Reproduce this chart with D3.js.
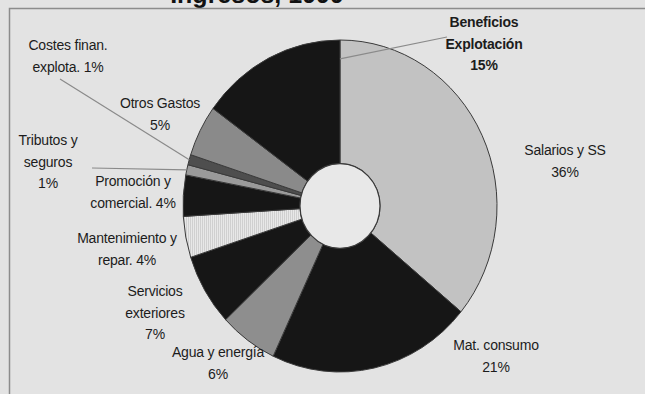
<!DOCTYPE html>
<html>
<head>
<meta charset="utf-8">
<script src="https://cdn.jsdelivr.net/npm/d3@7"></script>
<style>
  html, body { margin: 0; padding: 0; background: #e3e3e3; }
  svg { display: block; }
  text { font-family: "Liberation Sans", Arial, sans-serif; }
</style>
</head>
<body>
<svg id="chart" width="645" height="394"></svg>
<script>
// Cost structure: share of income per item, clockwise from 12 o'clock
const categories = [
  "Salarios y SS", "Mat. consumo", "Agua y energía", "Servicios exteriores",
  "Mantenimiento y repar.", "Promoción y comercial.", "Tributos y seguros",
  "Costes finan. explota.", "Otros Gastos", "Beneficios Explotación"
];
const shares = [36, 21, 6, 7, 4, 4, 1, 1, 5, 15];
// Label lines; {p} is replaced by the slice share
const labelLines = [
  ["Salarios y SS", "{p}"],
  ["Mat. consumo", "{p}"],
  ["Agua y energía", "{p}"],
  ["Servicios", "exteriores", "{p}"],
  ["Mantenimiento y", "repar. {p}"],
  ["Promoción y", "comercial. {p}"],
  ["Tributos y", "seguros", "{p}"],
  ["Costes finan.", "explota. {p}"],
  ["Otros Gastos", "{p}"],
  ["Beneficios", "Explotación", "{p}"]
];
const titleText = "Ingresos, 1999";

// Styling per slice
const fills = ["#c2c2c2", "#161616", "#8e8e8e", "#161616", "url(#stripes)",
               "#161616", "#9a9a9a", "#4e4e4e", "#8a8a8a", "#161616"];
const bold = [false, false, false, false, false, false, false, false, false, true];
// Label placement: centre x and first-line centre y
const labelPos = [
  [565, 150], [496, 345], [218, 352], [155, 291], [127, 238],
  [133, 181], [48, 140], [68, 45], [160, 103], [484, 22]
];
// Leader lines: slice index, start point, radius factor at the slice, which angle
const leaders = [
  { i: 9, from: [447, 37], k: 0.886, at: "end" },
  { i: 7, from: [60, 79], k: 1, at: "mid" },
  { i: 6, from: [92, 168], k: 1, at: "mid" }
];

const svg = d3.select("#chart");
const W = 645, H = 394;
const cx = 340, cy = 206, rx = 157, ry = 166, rIn = 40;
const lineGap = 21.5;

const defs = svg.append("defs");
const pat = defs.append("pattern").attr("id", "stripes")
  .attr("patternUnits", "userSpaceOnUse").attr("width", 2).attr("height", 3);
pat.append("rect").attr("width", 2).attr("height", 3).attr("fill", "#e8e8e8");
pat.append("rect").attr("width", 1).attr("height", 3).attr("fill", "#d0d0d0");

svg.append("rect").attr("width", W).attr("height", H).attr("fill", "#e3e3e3");

// Title, mostly above the visible area
svg.append("text")
  .attr("x", 257).attr("y", 3)
  .attr("text-anchor", "middle")
  .attr("font-size", 25).attr("font-weight", "bold").attr("fill", "#111")
  .text(titleText);

// Chart frame
svg.append("path")
  .attr("d", d3.line()([[9.5, H + 2], [9.5, 8.5], [W + 2, 8.5]]))
  .attr("fill", "none").attr("stroke", "#8c8c8c").attr("stroke-width", 1.5);

const pie = d3.pie().sort(null).value(d => d)(shares);
const arc = d3.arc().innerRadius(rIn).outerRadius(rx);

const g = svg.append("g")
  .attr("transform", `translate(${cx},${cy}) scale(1,${ry / rx})`);

g.selectAll("path.slice")
  .data(pie)
  .join("path")
  .attr("class", "slice")
  .attr("d", arc)
  .attr("fill", (d, i) => fills[i])
  .attr("stroke", "#3a3a3a")
  .attr("stroke-width", 1)
  .attr("vector-effect", "non-scaling-stroke");

// Hole outline
g.append("circle").attr("r", rIn)
  .attr("fill", "#e8e8e8")
  .attr("stroke", "#3a3a3a").attr("stroke-width", 1.2)
  .attr("vector-effect", "non-scaling-stroke");

// Leader lines
function pointAt(angle, k) {
  return [cx + rx * k * Math.sin(angle), cy - ry * k * Math.cos(angle)];
}
leaders.forEach(l => {
  const d = pie[l.i];
  const a = l.at === "end" ? d.endAngle : (d.startAngle + d.endAngle) / 2;
  const p = pointAt(a, l.k);
  svg.append("path")
    .attr("d", d3.line()([l.from, p]))
    .attr("stroke", "#8a8a8a").attr("stroke-width", 1.2).attr("fill", "none");
});

// Labels
const labels = svg.append("g").attr("font-size", 14).attr("fill", "#1c1c1c");
categories.forEach((c, i) => {
  const lines = labelLines[i].map(s => s.replace("{p}", shares[i] + "%"));
  const t = labels.append("text")
    .attr("text-anchor", "middle")
    .attr("font-weight", bold[i] ? "bold" : "normal")
    .attr("letter-spacing", -0.2);
  lines.forEach((s, j) => {
    t.append("tspan")
      .attr("x", labelPos[i][0])
      .attr("y", labelPos[i][1] + j * lineGap + 5)
      .text(s);
  });
});
</script>
</body>
</html>
